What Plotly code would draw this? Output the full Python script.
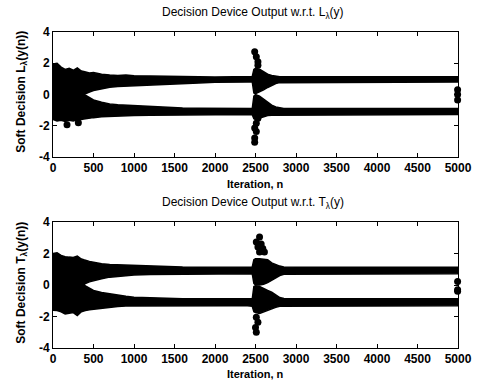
import plotly.graph_objects as go

# ---------------- data ----------------
ITER = [0, 50, 100, 150, 200, 250, 300, 350, 380, 400,
        450, 500, 600, 700, 800, 900, 1000, 1200, 1400, 1600,
        1800, 2000, 2200, 2400, 2460, 2480, 2500, 2550, 2600, 2650,
        2700, 2750, 2800, 2850, 2900, 3000, 3500, 4000, 4500, 5000]

# Panel 1 (L_lambda): visual envelope of the two clusters of points
U1_TOP = [1.95, 2.00, 1.75, 1.60, 1.68, 1.55, 1.70, 1.50, 1.47, 1.45,
          1.38, 1.40, 1.30, 1.25, 1.22, 1.25, 1.20, 1.18, 1.15, 1.13,
          1.13, 1.12, 1.13, 1.13, 1.15, 1.60, 1.67, 1.62, 1.45, 1.30,
          1.22, 1.17, 1.14, 1.13, 1.13, 1.13, 1.13, 1.13, 1.13, 1.13]
U1_BOT = [0.00, 0.00, 0.00, 0.00, 0.00, 0.00, 0.00, 0.00, 0.00, 0.05,
          0.15, 0.25, 0.38, 0.47, 0.52, 0.55, 0.60, 0.64, 0.67, 0.70,
          0.74, 0.78, 0.80, 0.80, 0.80, 0.10, 0.05, 0.15, 0.30, 0.45,
          0.60, 0.70, 0.76, 0.79, 0.80, 0.80, 0.80, 0.80, 0.80, 0.80]
L1_TOP = [0.00, 0.00, 0.00, 0.00, 0.00, 0.00, 0.00, 0.00, 0.00, -0.05,
          -0.20, -0.35, -0.50, -0.60, -0.65, -0.68, -0.72, -0.78, -0.82, -0.86,
          -0.88, -0.90, -0.90, -0.90, -0.90, -0.10, 0.00, -0.10, -0.30, -0.50,
          -0.68, -0.80, -0.86, -0.89, -0.90, -0.90, -0.90, -0.90, -0.90, -0.90]
L1_BOT = [-1.60, -1.70, -1.65, -1.72, -1.65, -1.70, -1.62, -1.60, -1.57, -1.55,
          -1.50, -1.48, -1.42, -1.40, -1.38, -1.36, -1.35, -1.32, -1.30, -1.30,
          -1.30, -1.29, -1.28, -1.28, -1.30, -1.55, -1.60, -1.50, -1.42, -1.35,
          -1.32, -1.30, -1.29, -1.28, -1.28, -1.28, -1.28, -1.28, -1.28, -1.28]
P1_X = [173, 313, 2490, 2510, 2530, 2530, 2530, 2510, 2490, 2510, 2490, 2490, 4995, 4995, 4995]
P1_Y = [-1.94, -1.81, 2.73, 2.41, 2.09, 1.88, -1.52, -1.84, -2.15, -2.37, -2.79, -3.05, 0.30, 0.00, -0.35]

# Panel 2 (T_lambda)
U2_TOP = [2.00, 2.05, 1.88, 1.80, 1.77, 1.75, 1.84, 1.65, 1.60, 1.56,
          1.50, 1.45, 1.35, 1.30, 1.28, 1.27, 1.24, 1.20, 1.16, 1.14,
          1.13, 1.13, 1.13, 1.13, 1.15, 1.60, 1.67, 1.67, 1.65, 1.60,
          1.40, 1.28, 1.20, 1.15, 1.13, 1.13, 1.13, 1.13, 1.13, 1.13]
U2_BOT = [0.00, 0.00, 0.00, 0.00, 0.00, 0.00, 0.00, 0.00, 0.00, 0.10,
          0.20, 0.29, 0.40, 0.50, 0.56, 0.60, 0.64, 0.67, 0.70, 0.71,
          0.71, 0.71, 0.71, 0.71, 0.71, 0.10, 0.00, 0.00, 0.05, 0.15,
          0.29, 0.45, 0.60, 0.68, 0.71, 0.71, 0.71, 0.71, 0.71, 0.71]
L2_TOP = [0.00, 0.00, 0.00, 0.00, 0.00, 0.00, 0.00, 0.00, 0.00, -0.05,
          -0.20, -0.35, -0.47, -0.56, -0.65, -0.72, -0.77, -0.82, -0.86, -0.88,
          -0.88, -0.88, -0.88, -0.88, -0.88, -0.10, -0.05, -0.10, -0.20, -0.35,
          -0.46, -0.65, -0.80, -0.86, -0.88, -0.88, -0.88, -0.88, -0.88, -0.88]
L2_BOT = [-1.60, -1.62, -1.70, -1.84, -1.80, -1.75, -1.94, -1.70, -1.65, -1.62,
          -1.57, -1.52, -1.46, -1.41, -1.36, -1.33, -1.30, -1.30, -1.30, -1.32,
          -1.32, -1.32, -1.32, -1.32, -1.35, -1.70, -1.75, -1.80, -1.75, -1.60,
          -1.52, -1.42, -1.35, -1.33, -1.32, -1.32, -1.32, -1.32, -1.32, -1.32]
P2_X = [2550, 2510, 2570, 2530, 2590, 2550, 2610, 2510, 2530, 2500, 2510, 4995, 4995, 4995]
P2_Y = [3.04, 2.73, 2.60, 2.41, 2.31, 2.09, 2.09, -2.05, -2.37, -2.70, -3.00, 0.22, -0.30, -0.40]

X_TICKS = [0, 500, 1000, 1500, 2000, 2500, 3000, 3500, 4000, 4500, 5000]
Y_TICKS = [-4, -2, 0, 2, 4]
Y_TICK_TEXT = ["-4", "-2", "0", "2", "4"]

TITLES = ["Decision Device Output w.r.t. L<sub>λ</sub>(y)",
          "Decision Device Output w.r.t. T<sub>λ</sub>(y)"]
YLABELS = ["Soft Decision L<sub>λ</sub>(y(n))",
           "Soft Decision T<sub>λ</sub>(y(n))"]
XLABEL = "Iteration, n"

# ---------------- layout geometry ----------------
W, H = 484, 390
ML, MR, MT, MB = 53, 16, 32, 42
PW, PH = W - ML - MR, H - MT - MB


def px(x):
    return (x - ML) / PW


def py(y):
    return (H - MB - y) / PH


FONT = "Liberation Sans, Arial, sans-serif"

fig = go.Figure()


def band(xaxis, yaxis, top, bot):
    xs = ITER + ITER[::-1]
    ys = top + bot[::-1]
    fig.add_trace(go.Scatter(x=xs, y=ys, xaxis=xaxis, yaxis=yaxis, mode="lines",
                             fill="toself", fillcolor="black",
                             line=dict(color="black", width=1.5),
                             hoverinfo="skip", showlegend=False))


band("x", "y", U1_TOP, U1_BOT)
band("x", "y", L1_TOP, L1_BOT)
band("x2", "y2", U2_TOP, U2_BOT)
band("x2", "y2", L2_TOP, L2_BOT)

for xa, ya, xs, ys in [("x", "y", P1_X, P1_Y), ("x2", "y2", P2_X, P2_Y)]:
    fig.add_trace(go.Scatter(x=xs, y=ys, xaxis=xa, yaxis=ya, mode="markers",
                             marker=dict(color="black", size=7),
                             cliponaxis=False, showlegend=False))

axis_common = dict(showline=True, linecolor="black", linewidth=1, mirror="ticks",
                   ticks="inside", ticklen=4, tickcolor="black", tickwidth=1,
                   showgrid=False, zeroline=False,
                   tickfont=dict(family=FONT, size=12, color="black", weight="bold"))

x_common = dict(axis_common, range=[0, 5000], tickvals=X_TICKS,
                ticktext=[str(v) for v in X_TICKS])
y_common = dict(axis_common, range=[-4, 4], tickvals=Y_TICKS, ticktext=Y_TICK_TEXT)

top_dom = [py(157), 1.0]
bot_dom = [0.0, py(222)]

fig.update_layout(
    width=W, height=H,
    margin=dict(l=ML, r=MR, t=MT, b=MB),
    paper_bgcolor="white", plot_bgcolor="white",
    xaxis=dict(x_common, domain=[0, 1], anchor="y"),
    yaxis=dict(y_common, domain=top_dom, anchor="x"),
    xaxis2=dict(x_common, domain=[0, 1], anchor="y2"),
    yaxis2=dict(y_common, domain=bot_dom, anchor="x2"),
    showlegend=False,
)

ann = []
for i, (ty, ly, xy) in enumerate([(13, 92, 184), (203, 283, 374)]):
    ann.append(dict(text=TITLES[i], x=px(258), y=py(ty), xref="paper", yref="paper",
                    showarrow=False, xanchor="center", yanchor="middle",
                    font=dict(family=FONT, size=12, color="black")))
    ann.append(dict(text=YLABELS[i], x=px(21), y=py(ly), xref="paper", yref="paper",
                    showarrow=False, xanchor="center", yanchor="middle", textangle=-90,
                    font=dict(family=FONT, size=12, color="black", weight="bold")))
    ann.append(dict(text=XLABEL, x=px(261), y=py(xy), xref="paper", yref="paper",
                    showarrow=False, xanchor="center", yanchor="middle",
                    font=dict(family=FONT, size=11, color="black", weight="bold")))
fig.update_layout(annotations=ann)

fig.write_html("out.html")
